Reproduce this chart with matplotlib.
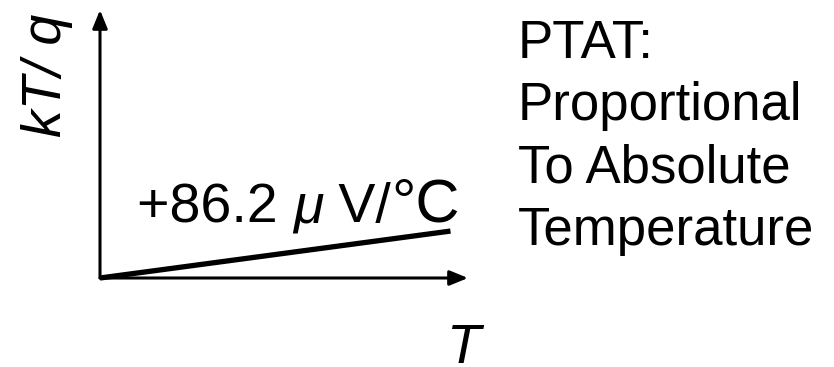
import matplotlib
matplotlib.use("Agg")
import matplotlib.pyplot as plt

plt.rcParams['font.family'] = ['Liberation Sans', 'DejaVu Sans']

# PTAT voltage kT/q versus absolute temperature
temp_k = [0, 400]
kt_q = [0.0, 0.0345]
slope_parts = ['+86.2 ', 'μ', ' V/', '°C']
slope_styles = ['normal', 'italic', 'normal', 'normal']
slope_sizes = [40, 40, 40, 44]
side_label = 'PTAT:\nProportional\nTo Absolute\nTemperature'

W, H = 834, 367
fig = plt.figure(figsize=(W / 100, H / 100), dpi=100)

# axes box runs from the arrow origin to the arrow tips
ax = fig.add_axes([100 / W, (H - 278) / H, (468 - 100) / W, (278 - 10) / H])
ax.set_xlim(0, 420)
ax.set_ylim(0, 0.197)
ax.axis('off')

ax.plot(temp_k, kt_q, color='black', lw=3.8, solid_capstyle='butt', clip_on=False)

arrow = dict(arrowstyle='-|>,head_length=1.1,head_width=0.45', color='black',
             lw=2.2, shrinkA=0, shrinkB=0)
ax.annotate('', xy=(1, 0), xytext=(0, 0), xycoords='axes fraction',
            arrowprops=arrow, annotation_clip=False)
ax.annotate('', xy=(0, 1), xytext=(0, 0), xycoords='axes fraction',
            arrowprops=arrow, annotation_clip=False)

fig.text(47 / W, 1 - 75 / H, 'kT/ q', rotation=90, style='italic',
         fontsize=40, ha='center', va='center')
fig.text(463 / W, 1 - 363 / H, 'T', style='italic', fontsize=40,
         ha='center', va='baseline')

# slope label: pieces chained one after another so that mu can be italic
prev = fig.text(137 / W, 1 - 222 / H, slope_parts[0], fontsize=slope_sizes[0],
                style=slope_styles[0], ha='left', va='baseline')
for part, st, fs in zip(slope_parts[1:], slope_styles[1:], slope_sizes[1:]):
    prev = ax.annotate(part, xy=(1, 0), xycoords=prev, fontsize=fs,
                       style=st, ha='left', va='bottom', annotation_clip=False)

fig.text(518 / W, 1 - 19 / H, side_label, fontsize=38, ha='left', va='top',
         linespacing=1.32)

fig.savefig('out.png', dpi=100, facecolor='white')
